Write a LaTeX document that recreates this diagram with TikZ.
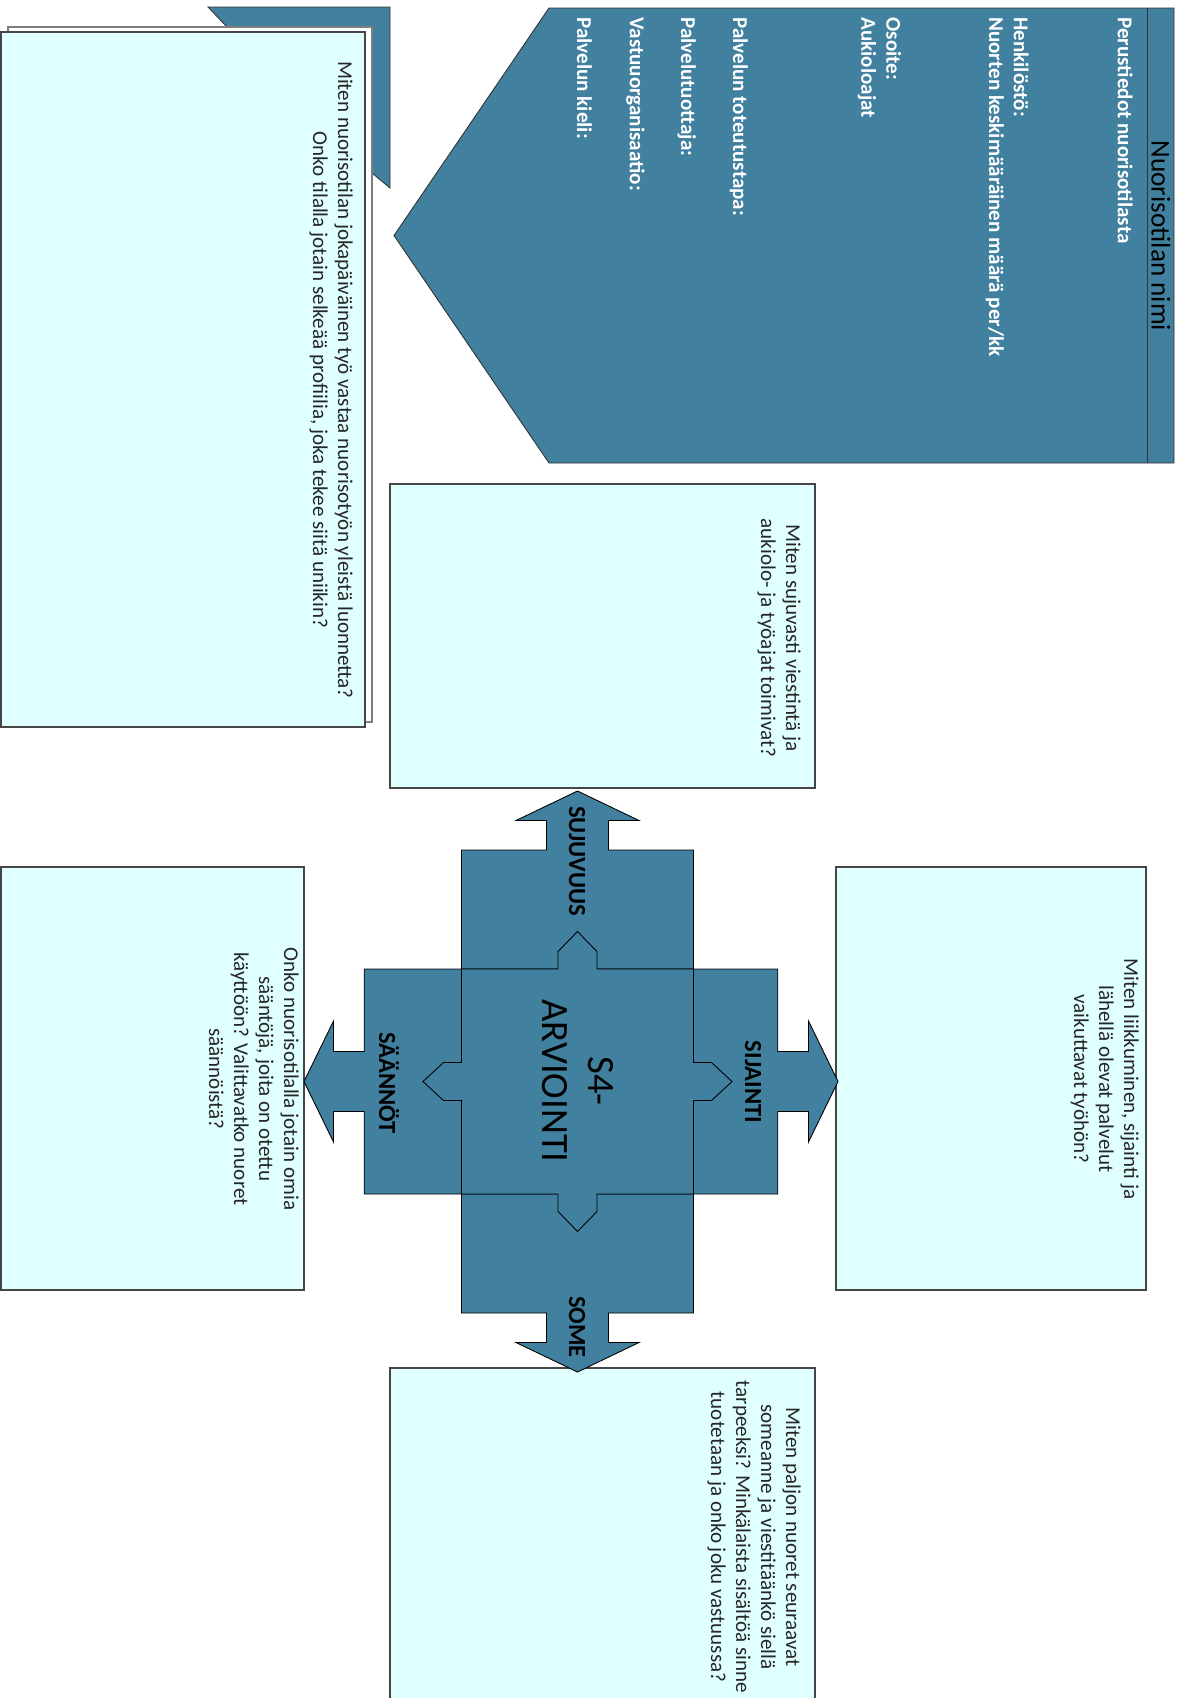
\documentclass[tikz,border=0pt]{standalone}
\usepackage{fontspec}
\setmainfont{Carlito}
\definecolor{s4blue}{RGB}{65,128,158}
\definecolor{s4cyan}{RGB}{224,255,255}
\definecolor{s4edge}{RGB}{70,70,70}

\begin{document}
\begin{tikzpicture}[x=0.02cm, y=-0.02cm,
    card/.style={draw=s4edge, fill=s4cyan, line width=0.9pt},
    arrowshape/.style={draw=black, fill=s4blue, line width=0.5pt},
    question/.style={rotate=-90, anchor=north, align=center, inner sep=0pt, text=black!85, font=\fontsize{12}{14.2}\selectfont},
    tag/.style={rotate=-90, inner sep=0pt, font=\fontsize{14}{16}\selectfont\bfseries},
  ]
    \useasboundingbox (0,0) rectangle (1182,1698);
    % perustiedot
    \draw[arrowshape, draw=black!80] (394,235.5) -- (549,8) -- (1174,8) -- (1174,463) -- (549,463) -- cycle;
    \draw[black!80] (1147,8) -- (1147,463);
    \node[rotate=-90, font=\fontsize{15.5}{18}\selectfont] (name) at (1161,236) {Nuorisotilan nimi};
    \node[rotate=-90, anchor=north west, align=left, inner sep=0pt, text=white, font=\fontsize{12}{14.1}\selectfont\bfseries] (info) at (1133,17)
      {Perustiedot nuorisotilasta\\[45pt]
       Henkilöstö:\\
       Nuorten keskimääräinen määrä per/kk\\[44.5pt]
       Osoite:\\
       Aukioloajat\\[59pt]
       Palvelun toteutustapa:\\[15.5pt]
       Palvelutuottaja:\\[15pt]
       Vastuuorganisaatio:\\[16pt]
       Palvelun kieli:};

    % profiili
    \draw[arrowshape, draw=black!80] (208,7) -- (390,7) -- (390,188) -- (372,173) -- (372,27) -- (227,27) -- cycle;
    \draw[draw=s4edge!70, fill=white, line width=0.7pt] (8,27) rectangle (372,722);
    \draw[card] (1,32) rectangle (365,727);
    \node[question] (profile) at (353,380)
      {Miten nuorisotilan jokapäiväinen työ vastaa nuorisotyön yleistä luonnetta?\\
       Onko tilalla jotain selkeää profiilia, joka tekee siitä uniikin?};

    % kysymykset
    \draw[card] (390,484) rectangle (815,788);
    \node[question] (flow) at (801,638) {Miten sujuvasti viestintä ja\\aukiolo- ja työajat toimivat?};
    \draw[card] (836,867) rectangle (1146,1290);
    \node[question] (place) at (1139,1079) {Miten liikkuminen, sijainti ja\\lähellä olevat palvelut\\vaikuttavat työhön?};
    \draw[card] (1,867) rectangle (304,1290);
    \node[question] (rules) at (299,1079) {Onko nuorisotilalla jotain omia\\sääntöjä, joita on otettu\\käyttöön? Valittavatko nuoret\\säännöistä?};
    \draw[card] (390,1368) rectangle (815,1710);
    \node[question] (social) at (801,1537) {Miten paljon nuoret seuraavat\\someanne ja viestitäänkö siellä\\tarpeeksi? Minkälaista sisältöä sinne\\tuotetaan ja onko joku vastuussa?};

    % S4-risti
    \begin{scope}[shift={(577.5,1081.5)}]
      \draw[arrowshape] (-116,-231.5) -- (-31,-231.5) -- (-31,-261) -- (-61.5,-261) -- (0,-290.5) -- (61.5,-261) -- (31,-261) -- (31,-231.5)
        -- (116,-231.5) -- (116,231.5) -- (31,231.5) -- (31,261) -- (61.5,261) -- (0,290.5) -- (-61.5,261) -- (-31,261) -- (-31,231.5)
        -- (-116,231.5) -- cycle;
    \end{scope}
    \begin{scope}[shift={(571,1081.5)}]
      \draw[arrowshape] (-206.8,-112.5) -- (206.8,-112.5) -- (206.8,-30) -- (237.5,-30) -- (237.5,-60.5) -- (267,0) -- (237.5,60.5) -- (237.5,30)
        -- (206.8,30) -- (206.8,112.5) -- (-206.8,112.5) -- (-206.8,30) -- (-237.5,30) -- (-237.5,60.5) -- (-267,0) -- (-237.5,-60.5)
        -- (-237.5,-30) -- (-206.8,-30) -- cycle;
    \end{scope}
    \begin{scope}[shift={(577.5,1081.5)}]
      \draw[arrowshape] (-116,-112.5) -- (-19.5,-112.5) -- (-19.5,-130) -- (0,-150) -- (19.5,-130) -- (19.5,-112.5) -- (116,-112.5)
        -- (116,-19) -- (134,-19) -- (154.5,0) -- (134,19) -- (116,19) -- (116,112.5) -- (19.5,112.5) -- (19.5,130) -- (0,150)
        -- (-19.5,130) -- (-19.5,112.5) -- (-116,112.5) -- (-116,19) -- (-134,19) -- (-154.5,0) -- (-134,-19) -- (-116,-19) -- cycle;
    \end{scope}
    \node[rotate=-90, align=center, font=\fontsize{22}{26}\selectfont] (s4) at (578,1081) {S4-\\ARVIOINTI};
    \node[tag] (flowtag) at (577,861) {SUJUVUUS};
    \node[tag] (socialtag) at (577,1327) {SOME};
    \node[tag] (rulestag) at (389,1083) {SÄÄNNÖT};
    \node[tag] (placetag) at (753,1082) {SIJAINTI};
\end{tikzpicture}
\end{document}
